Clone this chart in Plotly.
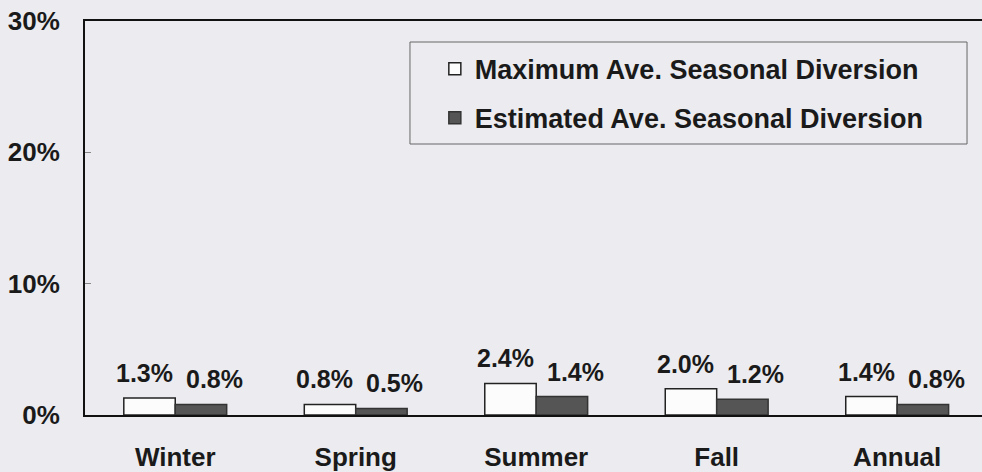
import plotly.graph_objects as go

categories = ["Winter", "Spring", "Summer", "Fall", "Annual"]
max_div = [1.3, 0.8, 2.4, 2.0, 1.4]
est_div = [0.8, 0.5, 1.4, 1.2, 0.8]
series_names = ["Maximum Ave. Seasonal Diversion", "Estimated Ave. Seasonal Diversion"]
y_ticks = [0, 10, 20, 30]
y_tick_labels = ["0%", "10%", "20%", "30%"]

FONT = "Liberation Sans, Arial, sans-serif"
BG = "#ececf0"

fig = go.Figure()
fig.add_trace(go.Bar(
    x=categories, y=max_div, name=series_names[0], legendgroup="a",
    marker=dict(color="#fcfcfc", line=dict(color="#222222", width=1.5)),
))
fig.add_trace(go.Bar(
    x=categories, y=est_div, name=series_names[1], legendgroup="b",
    marker=dict(color="#555555", line=dict(color="#333333", width=1.5)),
))

annotations = []
for vals, xs in ((max_div, -31), (est_div, 39)):
    for c, v in zip(categories, vals):
        annotations.append(dict(
            x=c, y=v, xref="x", yref="y", text=f"{v:.1f}%", showarrow=False,
            xshift=xs, yshift=25, yanchor="middle",
            font=dict(family=FONT, size=25, color="#1a1a1a", weight="bold"),
        ))

fig.update_layout(
    width=982, height=472,
    margin=dict(l=85, r=0, t=21, b=57, autoexpand=False),
    paper_bgcolor=BG, plot_bgcolor=BG,
    barmode="group", bargap=0.43, bargroupgap=0,
    font=dict(family=FONT, size=25, color="#1a1a1a"),
    showlegend=True,
    legend=dict(
        x=0.39, xanchor="left", y=0.94, yanchor="top",
        bgcolor="rgba(0,0,0,0)", borderwidth=0,
        font=dict(family=FONT, size=27, color="#1a1a1a", weight="bold"),
        tracegroupgap=11,
    ),
    annotations=annotations,
    shapes=[dict(type="rect", xref="paper", yref="paper",
                 x0=0.3623, x1=0.9833, y0=0.6878, y1=0.9467,
                 line=dict(color="#666666", width=1))],
    xaxis=dict(
        range=[-0.5, 4.47], showgrid=False, showline=True, mirror=True,
        linecolor="#111111", linewidth=2, ticks="", automargin=False,
        tickfont=dict(family=FONT, size=26, color="#1a1a1a", weight="bold"),
        ticklabelstandoff=18,
    ),
    yaxis=dict(
        range=[0, 30], tickvals=y_ticks, ticktext=y_tick_labels,
        showgrid=False, showline=True, linecolor="#111111", linewidth=2,
        zeroline=False, ticks="inside", ticklen=6, tickcolor="#888888",
        automargin=False,
        tickfont=dict(family=FONT, size=26, color="#1a1a1a", weight="bold"),
        ticklabelstandoff=18,
    ),
)

fig.write_html(
    "out.html",
    config={"displayModeBar": False},
    post_script="document.body.style.margin='0';document.body.style.background='#ececf0';",
)
